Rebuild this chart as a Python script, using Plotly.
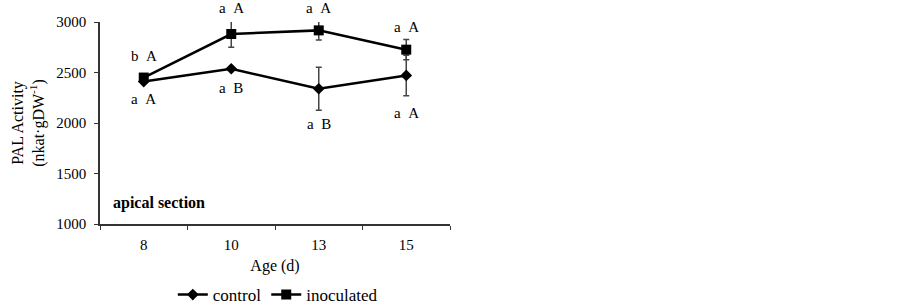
import plotly.graph_objects as go

ages = ["8", "10", "13", "15"]
control = [2410, 2537, 2339, 2471]
control_err = [0, 0, 213, 200]
inoculated = [2450, 2881, 2917, 2726]
inoculated_err = [0, 130, 95, 100]
labels_inoc = ["b\u00a0\u00a0A", "a\u00a0\u00a0A", "a\u00a0\u00a0A", "a\u00a0\u00a0A"]
labels_inoc_y = [2660, 3000, 3000, 2950]
labels_inoc_shift = [0, 14, 14, 0]
labels_ctrl = ["a\u00a0\u00a0A", "a\u00a0\u00a0B", "a\u00a0\u00a0B", "a\u00a0\u00a0A"]
labels_ctrl_y = [2240, 2345, 1990, 2100]
y_ticks = [1000, 1500, 2000, 2500, 3000]

serif = "Liberation Serif, Times New Roman, serif"

fig = go.Figure()
fig.add_trace(go.Scatter(
    x=ages, y=control, name="control", mode="lines+markers",
    line=dict(color="black", width=2.5),
    marker=dict(symbol="diamond", size=9, color="black"),
    error_y=dict(type="data", array=control_err, color="#444", thickness=1.5, width=3),
))
fig.add_trace(go.Scatter(
    x=ages, y=inoculated, name="inoculated", mode="lines+markers",
    line=dict(color="black", width=2.5),
    marker=dict(symbol="square", size=10, color="black"),
    error_y=dict(type="data", array=inoculated_err, color="#444", thickness=1.5, width=3),
))

for i, (t, yv, ys) in enumerate(zip(labels_inoc, labels_inoc_y, labels_inoc_shift)):
    fig.add_annotation(x=i, y=yv, yshift=ys, xref="x", yref="y", text=t, showarrow=False,
                       font=dict(family=serif, size=15, color="black"))
for i, (t, yv) in enumerate(zip(labels_ctrl, labels_ctrl_y)):
    fig.add_annotation(x=i, y=yv, xref="x", yref="y", text=t, showarrow=False,
                       font=dict(family=serif, size=15, color="black"))

fig.add_annotation(xref="paper", yref="y", x=0.03, y=1210, xanchor="left",
                   text="<b>apical section</b>", showarrow=False,
                   font=dict(family=serif, size=16, color="black"))

fig.update_layout(
    width=902, height=306,
    margin=dict(l=100, r=452, t=22, b=82),
    paper_bgcolor="white", plot_bgcolor="white",
    font=dict(family=serif, size=15, color="black"),
    showlegend=True,
    legend=dict(orientation="h", x=0.308, xanchor="center", y=0.036, yanchor="middle",
                xref="container", yref="container", font=dict(family=serif, size=17),
                tracegroupgap=0),
)
fig.update_xaxes(
    type="category", range=[-0.5, 3.5], showline=True, linecolor="#333", linewidth=1.5,
    ticks="outside", tickson="boundaries", ticklen=4, tickcolor="#333",
    showgrid=False, zeroline=False, automargin=False, ticklabelstandoff=6,
    title=dict(text="Age (d)", font=dict(family=serif, size=16), standoff=8),
)
fig.update_yaxes(
    range=[1000, 3000], tickvals=y_ticks, showline=True, linecolor="#333", linewidth=1.5,
    ticks="outside", ticklen=4, tickcolor="#333", showgrid=False, zeroline=False,
    automargin=False, ticklabelstandoff=5,
    title=dict(text="PAL Activity<br>(nkat·gDW<sup>-1</sup>)", font=dict(family=serif, size=16), standoff=8),
)

fig.write_html("out.html", config={"displayModeBar": False},
               post_script="document.body.style.margin='0';")
